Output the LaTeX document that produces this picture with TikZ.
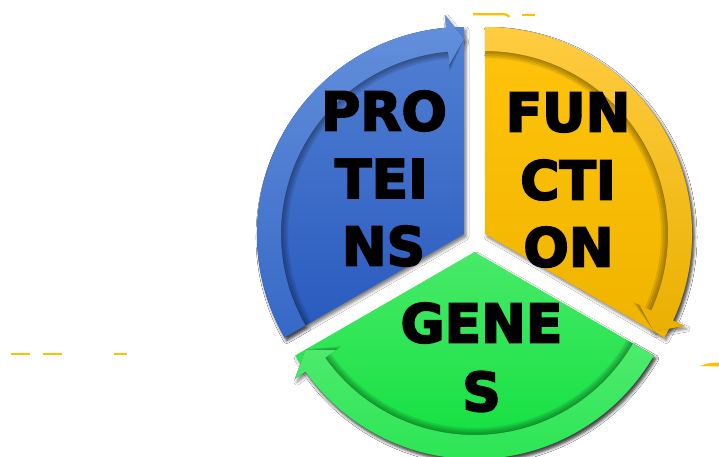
\documentclass[tikz,border=0pt]{standalone}
\usepackage{fontspec}
\newfontfamily\lblfont{DejaVu Sans}[BoldFeatures={FakeBold=3.4}]
\usetikzlibrary{shadows.blur}
\definecolor{bluetop}{RGB}{82,128,211}
\definecolor{bluebot}{RGB}{40,90,190}
\definecolor{bluebandtop}{RGB}{100,144,219}
\definecolor{bluebandbot}{RGB}{54,104,199}
\definecolor{yeltop}{RGB}{255,196,10}
\definecolor{yelbot}{RGB}{240,180,0}
\definecolor{yelbandtop}{RGB}{255,204,66}
\definecolor{yelbandbot}{RGB}{234,176,0}
\definecolor{grntop}{RGB}{72,234,104}
\definecolor{grnmid}{RGB}{22,226,66}
\definecolor{grnbot}{RGB}{8,222,56}
\definecolor{grnbandtop}{RGB}{78,235,110}
\definecolor{grnbandbot}{RGB}{44,229,84}
\definecolor{dashyel}{RGB}{255,192,0}
% sector: #1 centre, #2 start angle, #3 end angle, #4 radius
\newcommand\sectp[4]{(#1) -- ([shift={(#2:#4)}]#1) arc[start angle=#2,end angle=#3,radius=#4] -- cycle}
% arrow band: #1 centre, #2 start angle, #3 head back angle, #4 tip angle, #5 inner radius, #6 outer radius
\newcommand\bandp[6]{([shift={(#2:#6)}]#1) arc[start angle=#2,end angle=#3,radius=#6] -- ([shift={(#3:220)}]#1) -- ([shift={(#4:195)}]#1) -- ([shift={(#3:{#5-13})}]#1) -- ([shift={(#3:#5)}]#1) arc[start angle=#3,end angle=#2,radius=#5] -- cycle}
\tikzset{
  lbl/.style={font=\lblfont\bfseries\fontsize{53.5}{60}\selectfont, text=black, anchor=base, inner sep=0pt},
  dropshade/.style={blur shadow={shadow xshift=2pt, shadow yshift=-3pt, shadow blur radius=3pt, shadow opacity=50}},
  innershade/.style={fill=black, fill opacity=0.1},
  dashpiece/.style={draw=dashyel, line width=2.2pt},
  bluesect/.style={top color=bluetop, bottom color=bluebot},
  blueband/.style={top color=bluebandtop, bottom color=bluebandbot},
  yelsect/.style={top color=yeltop, bottom color=yelbot},
  yelband/.style={top color=yelbandtop, bottom color=yelbandbot},
  grnsect/.style={top color=grntop, middle color=grnmid, bottom color=grnbot},
  grnband/.style={top color=grnbandtop, bottom color=grnbandbot},
}
\begin{document}
\begin{tikzpicture}[x=1pt,y=1pt]
\fill[white] (0,0) rectangle (719,-457);
\useasboundingbox (0,0) rectangle (719,-457);
% yellow fragments
\draw[dashpiece] (473,-14.3) -- (502,-14.3) .. controls (506,-14.3) .. (509.5,-16.8);
\draw[dashpiece] (522,-14.8) -- (535,-14.8);
\draw[dashpiece] (11,-354.3) -- (30,-354.3);
\draw[dashpiece] (43,-354.3) -- (62,-354.3);
\draw[dashpiece] (114,-354.3) -- (127,-354.3);
\fill[dashyel] (700,-366) .. controls (707,-363) and (713,-362.5) .. (719,-362.5) -- (719,-366.5) .. controls (712,-366.3) .. (700,-366) -- cycle;
% centres
\coordinate (Cb) at (464,-234);
\coordinate (Cy) at (485,-234);
\coordinate (Cg) at (474.5,-252);
% drop shadows
\path[dropshade] \sectp{Cb}{210}{90}{207};
\path[dropshade] \sectp{Cy}{90}{-30}{207};
\path[dropshade] \sectp{Cg}{-30}{-150}{207};
\path[dropshade] \bandp{Cb}{210}{95}{90}{183}{207};
\path[dropshade] \bandp{Cy}{90}{-24.7}{-30}{183}{207};
\path[dropshade] \bandp{Cg}{-30}{-144.7}{-150}{183}{207};
% sectors
\path[bluesect] \sectp{Cb}{210}{90}{207};
\path[yelsect] \sectp{Cy}{90}{-30}{207};
\path[grnsect] \sectp{Cg}{-30}{-150}{207};
% inner shadows of the arrow bands
\foreach \ri in {176,178,180,182}{
  \path[innershade] \bandp{Cb}{210}{95}{90}{\ri}{207};
  \path[innershade] \bandp{Cy}{90}{-24.7}{-30}{\ri}{207};
  \path[innershade] \bandp{Cg}{-30}{-144.7}{-150}{\ri}{207};
}
% arrow bands
\path[blueband] \bandp{Cb}{210}{95}{90}{183}{207};
\path[yelband] \bandp{Cy}{90}{-24.7}{-30}{183}{207};
\path[grnband] \bandp{Cg}{-30}{-144.7}{-150}{183}{207};
% labels
\node[lbl] (p1) at (384,-130.5) {PRO};
\node[lbl] (p2) at (381.5,-198) {TEI};
\node[lbl] (p3) at (383.5,-265.5) {NS};
\node[lbl] (f1) at (568,-131.5) {FUN};
\node[lbl] (f2) at (568,-199.5) {CTI};
\node[lbl] (f3) at (568.5,-266.5) {ON};
\node[lbl] (g1) at (481.5,-342.5) {GENE};
\node[lbl] (g2) at (481.5,-411) {S};
\end{tikzpicture}
\end{document}
